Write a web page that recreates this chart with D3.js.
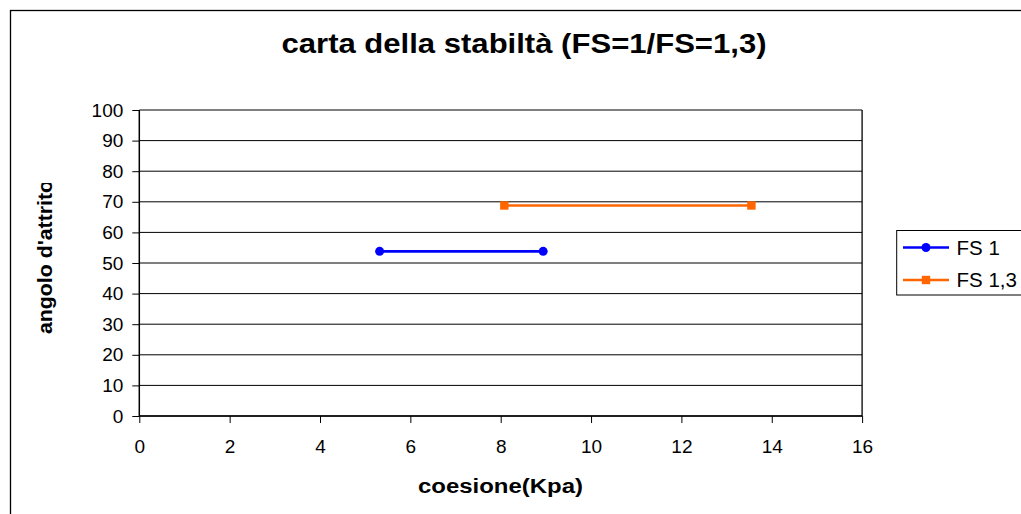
<!DOCTYPE html>
<html><head><meta charset="utf-8">
<script src="https://cdn.jsdelivr.net/npm/d3@7"></script>
<style>
html,body{margin:0;padding:0;background:#fff;}
svg{display:block;font-family:"Liberation Sans",Arial,sans-serif;}
</style></head>
<body>
<script>
const title = "carta della stabiltà (FS=1/FS=1,3)";
const xTitle = "coesione(Kpa)";
const yTitle = "angolo d'attrito";
const seriesNames = ["FS 1", "FS 1,3"];
const fs1X = [5.32, 8.94];
const fs1Y = [53.8, 53.8];
const fs13X = [8.08, 13.55];
const fs13Y = [68.8, 68.8];
const xTicks = [0, 2, 4, 6, 8, 10, 12, 14, 16];
const yTicks = [0, 10, 20, 30, 40, 50, 60, 70, 80, 90, 100];

const W = 1021, H = 514;
const svg = d3.select("body").append("svg").attr("width", W).attr("height", H);

// outer chart border
svg.append("rect").attr("x", 10.5).attr("y", 10.5).attr("width", W + 10).attr("height", H + 10)
  .attr("fill", "#fff").attr("stroke", "#000").attr("stroke-width", 1.3);

const L = 139.3, R = 862.1, T = 110, B = 416;
const x = d3.scaleLinear().domain([0, 16]).range([L, R]);
const y = d3.scaleLinear().domain([0, 100]).range([B, T]);

// gridlines
svg.append("g").selectAll("line").data(yTicks).join("line")
  .attr("x1", L).attr("x2", R).attr("y1", d => y(d)).attr("y2", d => y(d))
  .attr("stroke", "#000").attr("stroke-width", 1);

// right border of plot
svg.append("line").attr("x1", R).attr("x2", R).attr("y1", T).attr("y2", B)
  .attr("stroke", "#000").attr("stroke-width", 1.3);

// axes
const xAxis = svg.append("g").attr("transform", `translate(0,${B})`)
  .call(d3.axisBottom(x).tickValues(xTicks).tickSize(7).tickPadding(17).tickFormat(d3.format("d")));
const yAxis = svg.append("g").attr("transform", `translate(${L},0)`)
  .call(d3.axisLeft(y).tickValues(yTicks).tickSize(7).tickPadding(9).tickFormat(d3.format("d")));
[xAxis, yAxis].forEach(a => {
  a.select(".domain").attr("stroke", "#000").attr("stroke-width", 1.5);
  a.selectAll(".tick line").attr("stroke", "#000").attr("stroke-width", 1);
  a.selectAll("text").attr("font-size", 19).attr("fill", "#000")
    .attr("font-family", '"Liberation Sans",Arial,sans-serif');
});
yAxis.selectAll(".domain").attr("d", `M-0,${B}V${T}`);
xAxis.selectAll(".domain").attr("d", `M${L},0H${R}`);

// series
const line = d3.line().x(d => x(d[0])).y(d => y(d[1]));
const s1 = d3.zip(fs1X, fs1Y), s2 = d3.zip(fs13X, fs13Y);
svg.append("path").datum(s1).attr("d", line).attr("fill", "none").attr("stroke", "#0000FF").attr("stroke-width", 2.6);
svg.append("g").selectAll("circle").data(s1).join("circle")
  .attr("cx", d => x(d[0])).attr("cy", d => y(d[1])).attr("r", 4.5).attr("fill", "#0000FF");
svg.append("path").datum(s2).attr("d", line).attr("fill", "none").attr("stroke", "#FF6600").attr("stroke-width", 2.6);
svg.append("g").selectAll("rect").data(s2).join("rect")
  .attr("x", d => x(d[0]) - 4.2).attr("y", d => y(d[1]) - 4.2).attr("width", 8.4).attr("height", 8.4).attr("fill", "#FF6600");

// title
svg.append("text").attr("x", 524).attr("y", 53).attr("text-anchor", "middle")
  .attr("font-size", 27).attr("font-weight", "bold").attr("textLength", 485).attr("lengthAdjust", "spacingAndGlyphs")
  .text(title);
// x title
svg.append("text").attr("x", 500.5).attr("y", 493).attr("text-anchor", "middle")
  .attr("font-size", 20).attr("font-weight", "bold").attr("textLength", 165).attr("lengthAdjust", "spacingAndGlyphs")
  .text(xTitle);
// y title (clipped at top)
svg.append("clipPath").attr("id", "yclip").append("rect").attr("x", 0).attr("y", 183).attr("width", 100).attr("height", 300);
svg.append("g").attr("clip-path", "url(#yclip)").append("text")
  .attr("transform", "translate(51.5,334) rotate(-90)")
  .attr("font-size", 21).attr("font-weight", "bold").attr("textLength", 154).attr("lengthAdjust", "spacingAndGlyphs")
  .text(yTitle);

// legend
const lg = svg.append("g");
lg.append("rect").attr("x", 896.7).attr("y", 230.5).attr("width", 200).attr("height", 64.5)
  .attr("fill", "#fff").attr("stroke", "#000").attr("stroke-width", 1);
const colors = ["#0000FF", "#FF6600"];
const ly = [247.5, 280];
seriesNames.forEach((n, i) => {
  lg.append("line").attr("x1", 903).attr("x2", 949).attr("y1", ly[i]).attr("y2", ly[i])
    .attr("stroke", colors[i]).attr("stroke-width", 2.6);
  if (i === 0) lg.append("circle").attr("cx", 926).attr("cy", ly[i]).attr("r", 4.5).attr("fill", colors[i]);
  else lg.append("rect").attr("x", 921.8).attr("y", ly[i] - 4.2).attr("width", 8.4).attr("height", 8.4).attr("fill", colors[i]);
  lg.append("text").attr("x", 956.5).attr("y", ly[i] + 7).attr("font-size", 20.5).text(n);
});
</script>
</body></html>
